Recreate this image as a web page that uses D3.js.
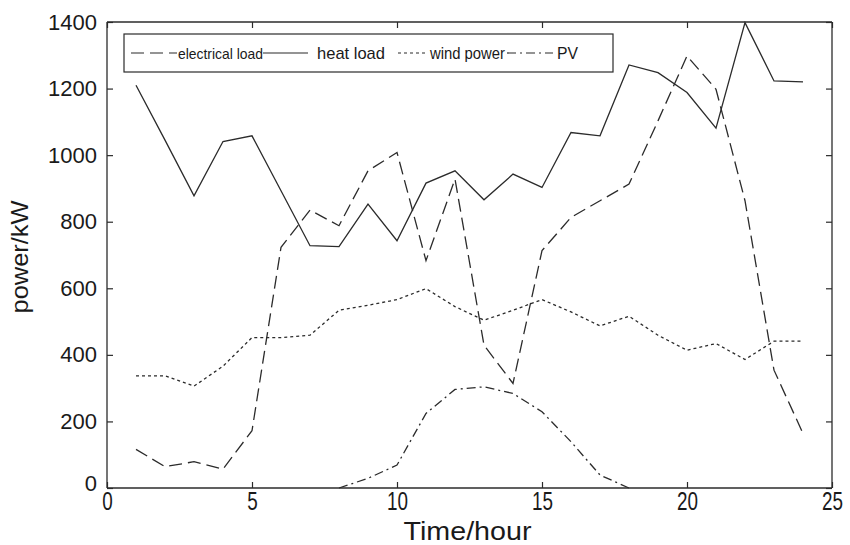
<!DOCTYPE html>
<html>
<head>
<meta charset="utf-8">
<script src="https://cdn.jsdelivr.net/npm/d3@7"></script>
<style>
  body { margin: 0; background: #fff; }
  svg text { fill: #1a1a1a; }
</style>
</head>
<body>
<div id="chart"></div>
<script>
// hours 1..24
var hours = d3.range(1, 25);
var electricalLoad = [116, 64, 79, 57, 172, 723, 835, 788, 953, 1008, 683, 928,
                      429, 314, 713, 813, 863, 913, 1103, 1298, 1198, 863, 354, 164];
var heatLoad = [1210, 1045, 878, 1041, 1058, 893, 728, 725, 853, 743, 916, 953,
                866, 943, 903, 1068, 1058, 1271, 1248, 1188, 1081, 1398, 1223, 1220];
var windPower = [337, 337, 306, 366, 452, 452, 459, 534, 549, 566, 599, 545,
                 504, 534, 566, 529, 487, 516, 459, 414, 434, 386, 441, 441];
var pvHours = [8, 9, 10, 11, 12, 13, 14, 15, 16, 17, 18];
var pv = [0, 29, 69, 224, 296, 304, 284, 229, 139, 39, 0];

var xTicks = [0, 5, 10, 15, 20, 25];
var yTicks = [0, 200, 400, 600, 800, 1000, 1200, 1400];
var legendNames = ["electrical load", "heat load", "wind power", "PV"];

var width = 850, height = 545;
var margin = {top: 22, right: 18, bottom: 57, left: 107};
var w = width - margin.left - margin.right;
var h = height - margin.top - margin.bottom;
var ink = "#2b2b2b";

var x = d3.scaleLinear().domain([0, 25]).range([0, w]);
var y = d3.scaleLinear().domain([0, 1400]).range([h, 0]);

var svg = d3.select("#chart").append("svg")
    .attr("width", width)
    .attr("height", height)
  .append("g")
    .attr("transform", "translate(" + margin.left + "," + margin.top + ")");

var series = [
  {name: legendNames[0], xs: hours, ys: electricalLoad, dash: "13,6"},
  {name: legendNames[1], xs: hours, ys: heatLoad, dash: null},
  {name: legendNames[2], xs: hours, ys: windPower, dash: "3,3"},
  {name: legendNames[3], xs: pvHours, ys: pv, dash: "9,4,2,4"}
];

var line = d3.line()
    .x(function (d) { return x(d[0]); })
    .y(function (d) { return y(d[1]); });

svg.selectAll(".series")
    .data(series)
  .enter().append("path")
    .attr("class", "series")
    .attr("fill", "none")
    .attr("stroke", ink)
    .attr("stroke-width", 1.3)
    .attr("stroke-dasharray", function (d) { return d.dash; })
    .attr("d", function (d) { return line(d.xs.map(function (v, i) { return [v, d.ys[i]]; })); });

// axes: bottom / left with labels, top / right ticks only (MATLAB box)
var sans = "'Liberation Sans', Arial, sans-serif";

var axB = svg.append("g").attr("transform", "translate(0," + h + ")")
    .call(d3.axisBottom(x).tickValues(xTicks).tickSize(-6).tickPadding(4).tickFormat(d3.format("d")));
var axL = svg.append("g")
    .call(d3.axisLeft(y).tickValues(yTicks).tickSize(-6).tickPadding(10).tickFormat(d3.format("d")));
var axT = svg.append("g")
    .call(d3.axisTop(x).tickValues(xTicks).tickSize(-6).tickFormat(""));
var axR = svg.append("g").attr("transform", "translate(" + w + ",0)")
    .call(d3.axisRight(y).tickValues(yTicks).tickSize(-6).tickFormat(""));

[axB, axL, axT, axR].forEach(function (g) {
  g.select(".domain").attr("stroke", ink).attr("stroke-width", 1.3);
  g.selectAll(".tick line").attr("stroke", ink).attr("stroke-width", 1.2);
});
axT.select(".domain").attr("d", "M0,0H" + w);
axR.select(".domain").attr("d", "M0,0V" + h);
axB.select(".domain").attr("d", "M0,0H" + w);
axL.select(".domain").attr("d", "M0,0V" + h);

// x tick labels are tall and narrow in the original
axB.selectAll("text")
    .style("font-family", sans)
    .style("font-size", "25px")
    .attr("fill", "#1a1a1a")
    .attr("textLength", function (d) { return String(d).length * 10.5; })
    .attr("lengthAdjust", "spacingAndGlyphs");
axL.selectAll("text")
    .style("font-family", sans)
    .style("font-size", "22px")
    .attr("fill", "#1a1a1a");
axL.selectAll(".tick").filter(function (d) { return d === 0; }).select("text").attr("dy", "0.1em");

// axis titles
svg.append("text")
    .attr("x", w / 2 - 2)
    .attr("y", h + 52)
    .attr("text-anchor", "middle")
    .style("font-family", sans)
    .style("font-size", "25px")
    .attr("textLength", 128)
    .attr("lengthAdjust", "spacingAndGlyphs")
    .text("Time/hour");

svg.append("text")
    .attr("transform", "translate(" + (-79) + "," + (h / 2 + 2) + ") rotate(-90)")
    .attr("text-anchor", "middle")
    .style("font-family", sans)
    .style("font-size", "24px")
    .attr("textLength", 113)
    .attr("lengthAdjust", "spacingAndGlyphs")
    .text("power/kW");

// legend
var lg = svg.append("g").attr("transform", "translate(" + 17 + "," + 12 + ")");
lg.append("rect")
    .attr("width", 489)
    .attr("height", 38)
    .attr("fill", "#fff")
    .attr("stroke", ink)
    .attr("stroke-width", 1.2);

var legendItems = [
  {x0: 7, x1: 53, tx: 54, tw: 85, size: 15},
  {x0: 139, x1: 184, tx: 193, tw: 68, size: 17},
  {x0: 274, x1: 304, tx: 306, tw: 75, size: 16},
  {x0: 383, x1: 429, tx: 433, tw: 21, size: 17}
];
var ly = 19;
legendItems.forEach(function (it, i) {
  lg.append("line")
      .attr("x1", it.x0).attr("x2", it.x1)
      .attr("y1", ly).attr("y2", ly)
      .attr("stroke", ink)
      .attr("stroke-width", 1.2)
      .attr("stroke-dasharray", series[i].dash);
  lg.append("text")
      .attr("x", it.tx)
      .attr("y", ly)
      .attr("dominant-baseline", "central")
      .style("font-family", sans)
      .style("font-size", it.size + "px")
      .attr("textLength", it.tw)
      .attr("lengthAdjust", "spacingAndGlyphs")
      .text(legendNames[i]);
});
</script>
</body>
</html>
